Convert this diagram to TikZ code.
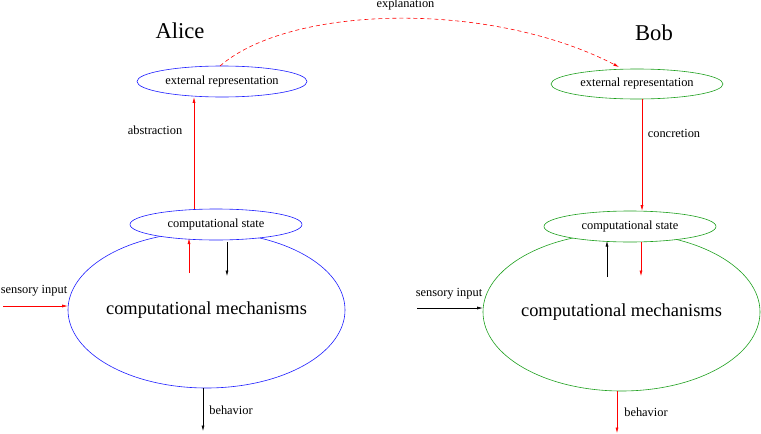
\documentclass[tikz,border=0pt]{standalone}
\usepackage{fontspec}
\setmainfont{Liberation Serif}
\usetikzlibrary{shapes.geometric,arrows.meta}
\definecolor{bobgreen}{RGB}{30,160,30}
\definecolor{aliceblue}{RGB}{30,30,255}
\begin{document}
\begin{tikzpicture}[x=1pt,y=-1pt,
  every node/.style={inner sep=0pt},
  lbl/.style={font=\fontsize{12.4}{14}\selectfont},
  big/.style={font=\fontsize{18.4}{21}\selectfont},
  who/.style={font=\fontsize{22.6}{26}\selectfont},
  oval/.style={ellipse, draw, line width=0.6pt, fill=white, lbl},
  arr/.style={line width=0.6pt, -{Latex[length=5.5pt,width=3pt]}},
]
\useasboundingbox (0,0) rectangle (761,434);

% ---------- Alice ----------
\node[who] (alice) at (180,31) {Alice};
\node[oval, draw=aliceblue, minimum width=277pt, minimum height=156pt,
      label={[big]center:computational mechanisms}] (mechA) at (206.5,310) {};
\node[oval, draw=aliceblue, minimum width=172pt, minimum height=31pt] (csA) at (216,224.5) {computational state};
\node[oval, draw=aliceblue, minimum width=170pt, minimum height=31pt] (erA) at (222,81.5) {external representation};

\coordinate (absX) at (194,0);
\draw[arr, red] (csA.north -| absX) -- (erA.south -| absX);
\node[lbl] (absL) at (155,130) {abstraction};

\coordinate (upA1) at (189,273);
\coordinate (upA2) at (189,238.5);
\draw[arr, red] (upA1) -- (upA2);
\coordinate (dnA1) at (227,242);
\coordinate (dnA2) at (227,276);
\draw[arr, black] (dnA1) -- (dnA2);

\coordinate (sensA) at (3,306);
\draw[arr, red] (sensA) -- (mechA.west |- sensA);
\node[lbl] (sensAL) at (34,291) {sensory input};

\coordinate (behA) at (203,431);
\draw[arr, black] (mechA.south -| behA) -- (behA);
\node[lbl] (behAL) at (231,410) {behavior};

% ---------- Bob ----------
\node[who] (bob) at (654,33) {Bob};
\node[oval, draw=bobgreen, minimum width=277pt, minimum height=158pt,
      label={[big]center:computational mechanisms}] (mechB) at (621.5,312) {};
\node[oval, draw=bobgreen, minimum width=172pt, minimum height=31pt] (csB) at (630,226.5) {computational state};
\node[oval, draw=bobgreen, minimum width=172pt, minimum height=30pt] (erB) at (637,84) {external representation};

\coordinate (conX) at (642,0);
\draw[arr, red] (erB.south -| conX) -- (csB.north -| conX);
\node[lbl] (conL) at (674,133) {concretion};

\coordinate (upB1) at (607,277);
\coordinate (upB2) at (607,241);
\draw[arr, black] (upB1) -- (upB2);
\coordinate (dnB1) at (641,242);
\coordinate (dnB2) at (641,276);
\draw[arr, red] (dnB1) -- (dnB2);

\coordinate (sensB) at (417,308);
\draw[arr, black] (sensB) -- (mechB.west |- sensB);
\node[lbl] (sensBL) at (449,294) {sensory input};

\coordinate (behB) at (617,433);
\draw[arr, red] (mechB.south -| behB) -- (behB);
\node[lbl] (behBL) at (646,412) {behavior};

% ---------- explanation ----------
\coordinate (exS) at (220,66);
\coordinate (exE) at (619,67);
\draw[arr, red, dash pattern=on 4pt off 3pt] (exS) .. controls (290,5) and (490,0) .. (exE);
\node[lbl, anchor=base] (exL) at (405.5,7) {explanation};
\end{tikzpicture}
\end{document}
